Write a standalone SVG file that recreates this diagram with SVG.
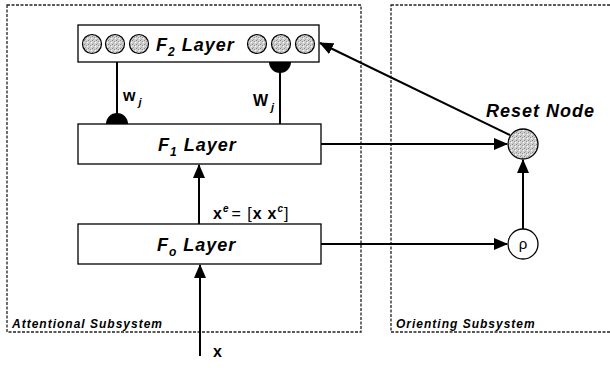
<svg xmlns="http://www.w3.org/2000/svg" width="610" height="368" viewBox="0 0 610 368">
<defs>
<marker id="arr" markerWidth="14" markerHeight="12" refX="13" refY="6" orient="auto" markerUnits="userSpaceOnUse">
<path d="M0,0 L14,6 L0,12 Z" fill="#000"/>
</marker>
<pattern id="grain" width="4" height="4" patternUnits="userSpaceOnUse">
<rect width="4" height="4" fill="#d0d0d0"/>
<rect x="0" y="0" width="1" height="1" fill="#888"/>
<rect x="2" y="1" width="1" height="1" fill="#999"/>
<rect x="1" y="3" width="1" height="1" fill="#aaa"/>
<rect x="3" y="2" width="1" height="1" fill="#fff"/>
</pattern>
</defs>
<style>
.sub{fill:none;stroke:#222;stroke-width:1.3;stroke-dasharray:3,1.5}
.box{fill:#fff;stroke:#000;stroke-width:1.3}
.ln{fill:none;stroke:#000;stroke-width:2}
.lab{font-family:"Liberation Sans",Arial,sans-serif;font-style:italic;font-weight:bold;font-size:18px;letter-spacing:1px;fill:#000}
.small{font-family:"Liberation Sans",Arial,sans-serif;font-style:italic;font-weight:bold;font-size:12px;letter-spacing:1px;fill:#000}
.math{font-family:"Liberation Sans",Arial,sans-serif;font-weight:bold;font-size:16px;fill:#000}
.cell{fill:url(#grain);stroke:#000;stroke-width:1.2}
</style>
<g id="attentional">
<rect class="sub" x="7" y="5" width="354" height="327"/>
<text class="small" x="12" y="328">Attentional Subsystem</text>
</g>
<g id="orienting">
<rect class="sub" x="391" y="5" width="225" height="327"/>
<text class="small" x="396" y="328">Orienting Subsystem</text>
</g>
<g id="connectors">
<line class="ln" x1="117" y1="62" x2="117" y2="124"/>
<path d="M106,124 A11,11 0 0 1 128,124 Z" fill="#000"/>
<line class="ln" x1="280" y1="62" x2="280" y2="124"/>
<path d="M269,62 A11,11 0 0 0 291,62 Z" fill="#000"/>
<line class="ln" x1="199" y1="224" x2="199" y2="165" marker-end="url(#arr)"/>
<line class="ln" x1="200" y1="356" x2="200" y2="265" marker-end="url(#arr)"/>
<line class="ln" x1="321" y1="144" x2="507" y2="144" marker-end="url(#arr)"/>
<line class="ln" x1="321" y1="244" x2="507" y2="244" marker-end="url(#arr)"/>
<line class="ln" x1="523" y1="229" x2="523" y2="160" marker-end="url(#arr)"/>
<line class="ln" x1="510" y1="135" x2="320" y2="43" marker-end="url(#arr)"/>
<text class="math" x="123" y="101">w<tspan font-size="11" font-style="italic" dy="5" dx="3">j</tspan></text>
<text class="math" x="253" y="106">W<tspan font-size="11" font-style="italic" dy="5" dx="3">j</tspan></text>
<text class="math" x="213" y="219" letter-spacing="1">x<tspan font-size="10" dy="-7" font-style="italic">e</tspan><tspan dy="7" font-weight="normal" dx="2">= [</tspan>x<tspan dx="5">x</tspan><tspan font-size="10" dy="-7" font-style="italic">c</tspan><tspan dy="7" font-weight="normal">]</tspan></text>
<text class="math" x="213" y="357">x</text>
</g>
<g id="f2">
<rect class="box" x="78" y="25" width="241" height="37"/>
<circle class="cell" cx="92" cy="44" r="9.5"/>
<circle class="cell" cx="115" cy="44" r="9.5"/>
<circle class="cell" cx="139" cy="44" r="9.5"/>
<circle class="cell" cx="257" cy="44" r="9.5"/>
<circle class="cell" cx="281" cy="44" r="9.5"/>
<circle class="cell" cx="305" cy="44" r="9.5"/>
<text class="lab" x="156" y="51">F<tspan font-size="12" dy="5">2</tspan><tspan dy="-5"> Layer</tspan></text>
</g>
<g id="f1">
<rect class="box" x="78" y="124" width="243" height="40"/>
<text class="lab" x="158" y="151">F<tspan font-size="12" dy="5">1</tspan><tspan dy="-5"> Layer</tspan></text>
</g>
<g id="f0">
<rect class="box" x="78" y="224" width="243" height="40"/>
<text class="lab" x="157" y="251">F<tspan font-size="12" dy="5">o</tspan><tspan dy="-5"> Layer</tspan></text>
</g>
<g id="reset">
<circle cx="523" cy="144" r="15" fill="url(#grain)" stroke="#000" stroke-width="1.3"/>
<text class="lab" x="486" y="117">Reset Node</text>
</g>
<g id="rho">
<circle cx="523" cy="244" r="15" fill="#fff" stroke="#000" stroke-width="1.3"/>
<text x="523" y="249" text-anchor="middle" font-family="'Liberation Sans',Arial,sans-serif" font-size="15">ρ</text>
</g>
</svg>
